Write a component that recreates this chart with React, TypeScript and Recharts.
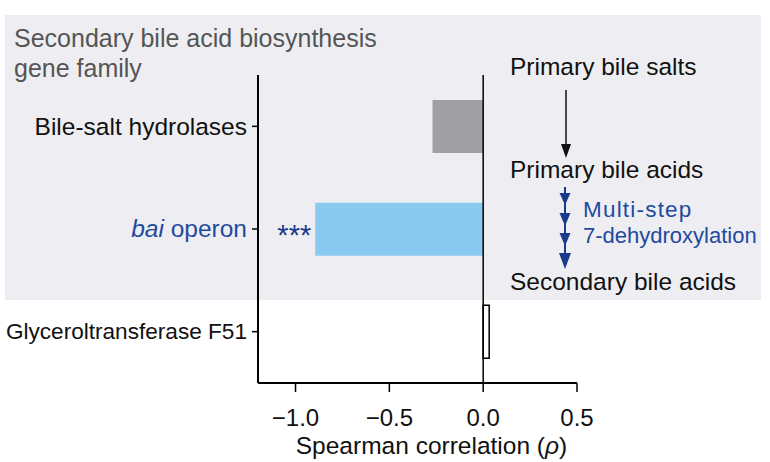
import React from "react";
import { BarChart, Bar, XAxis, YAxis, Cell, ReferenceLine, LabelList, Label } from "recharts";

const categories = ["Bile-salt hydrolases", "bai operon", "Glyceroltransferase F51"];
const rhoValues = [-0.27, -0.895, 0.032];
const significance = ["", "***", ""];
const xTicks = [-1.0, -0.5, 0.0, 0.5];
const barFills = ["#a0a0a3", "#8bcaf0", "#ffffff"];
const barStrokes = ["none", "none", "#000000"];

const data = categories.map((name, i) => ({ name, rho: rhoValues[i], sig: significance[i] }));

const FONT = '"Liberation Sans", Arial, Helvetica, sans-serif';
const BLUE = "#1f4a9e";
const NAVY = "#1a3a8c";
const labelFontSize: Record<string, number> = {
  "Bile-salt hydrolases": 24.5,
  "bai operon": 24.5,
  "Glyceroltransferase F51": 22.6,
};

const fmt = (v: number) => (v < 0 ? "\u2212" : "") + Math.abs(v).toFixed(1);

const YTick = (props: any) => {
  const { x, y, payload } = props;
  const v = payload.value as string;
  const fs = labelFontSize[v] ?? 22;
  if (v === "bai operon") {
    return (
      <text x={x - 3} y={y} dy={fs * 0.34} textAnchor="end" fontSize={fs} fill={BLUE} fontFamily={FONT}>
        <tspan fontStyle="italic">bai</tspan> operon
      </text>
    );
  }
  return (
    <text x={x - 3} y={y} dy={fs * 0.34} textAnchor="end" fontSize={fs} fill="#111" fontFamily={FONT}>
      {v}
    </text>
  );
};

const SigLabel = (props: any) => {
  const { x, y, width, height, value } = props;
  if (!value) return null;
  const left = Math.min(x, x + width);
  return (
    <text x={left - 4} y={y + height / 2} dy={16} textAnchor="end" fontSize={29} fill={NAVY} fontFamily={FONT}>
      {value}
    </text>
  );
};

const XLabel = (props: any) => {
  const { viewBox } = props;
  const cx = viewBox.x + viewBox.width / 2 + 14;
  return (
    <text x={cx} y={454} textAnchor="middle" fontSize={24.5} fill="#111" fontFamily={FONT}>
      Spearman correlation (<tspan fontStyle="italic">ρ</tspan>)
    </text>
  );
};

export default function App() {
  return (
    <div style={{ position: "absolute", left: 0, top: 0, width: 770, height: 462, background: "#fff", fontFamily: FONT }}>
      <div style={{ position: "absolute", left: 5, top: 15, width: 756, height: 285, background: "#eeeef2" }} />
      <div style={{ position: "absolute", left: 0, top: 0 }}>
        <BarChart
          width={770}
          height={462}
          data={data}
          layout="vertical"
          margin={{ top: 75, right: 193, bottom: 0, left: 0 }}
          style={{ fontFamily: FONT }}
        >
          <XAxis
            type="number"
            dataKey="rho"
            domain={[-1.2, 0.5]}
            ticks={xTicks}
            allowDataOverflow
            height={79}
            tickFormatter={fmt}
            axisLine={{ stroke: "#000", strokeWidth: 2 }}
            tickLine={{ stroke: "#000", strokeWidth: 1.5 }}
            tickSize={9}
            tickMargin={17}
            tick={{ fontSize: 24, fill: "#111", fontFamily: FONT }}
          >
            <Label content={<XLabel />} position="bottom" />
          </XAxis>
          <YAxis
            type="category"
            dataKey="name"
            width={258}
            axisLine={{ stroke: "#000", strokeWidth: 2 }}
            tickLine={{ stroke: "#000", strokeWidth: 1.5 }}
            tickSize={6}
            tick={<YTick />}
            interval={0}
          />
          <ReferenceLine x={0} stroke="#000" strokeWidth={1.5} />
          <Bar dataKey="rho" barSize={53} isAnimationActive={false}>
            {data.map((d, i) => (
              <Cell key={d.name} fill={barFills[i]} stroke={barStrokes[i]} strokeWidth={1.5} />
            ))}
            <LabelList dataKey="sig" content={<SigLabel />} />
          </Bar>
        </BarChart>
      </div>
      <svg
        width={770}
        height={462}
        style={{ position: "absolute", left: 0, top: 0, pointerEvents: "none" }}
        fontFamily={FONT}
      >
        <text x={14} y={47} fontSize={25} fill="#555">Secondary bile acid biosynthesis</text>
        <text x={14} y={77} fontSize={25} fill="#555">gene family</text>

        <text x={510} y={75} fontSize={24.5} fill="#111">Primary bile salts</text>
        <line x1={566} y1={90} x2={566} y2={146} stroke="#111" strokeWidth={1.5} />
        <polygon points="561,144 571,144 566,158" fill="#111" />
        <text x={510} y={178} fontSize={24.5} fill="#111">Primary bile acids</text>

        <line x1={565} y1={187} x2={565} y2={262} stroke={NAVY} strokeWidth={2} />
        <polygon points="559.5,193 570.5,193 565,205" fill={NAVY} />
        <polygon points="559.5,213 570.5,213 565,226" fill={NAVY} />
        <polygon points="559.5,233 570.5,233 565,246" fill={NAVY} />
        <polygon points="559,253 571,253 565,269" fill={NAVY} />
        <text x={583} y={217} fontSize={22.5} fill={BLUE} letterSpacing={1.2}>Multi-step</text>
        <text x={583} y={243} fontSize={22} fill={BLUE}>7-dehydroxylation</text>

        <text x={510} y={290} fontSize={24.5} fill="#111">Secondary bile acids</text>
      </svg>
    </div>
  );
}
